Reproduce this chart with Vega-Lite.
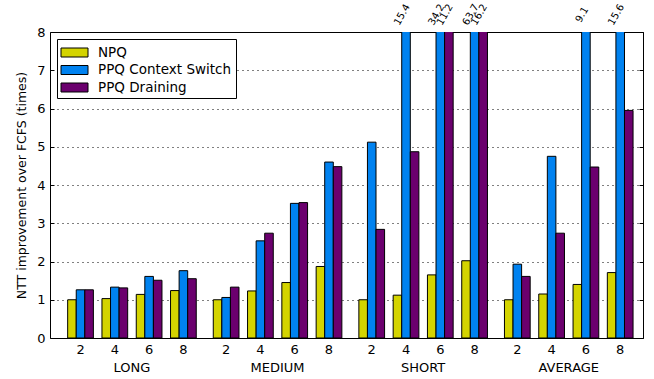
{
  "$schema": "https://vega.github.io/schema/vega-lite/v6.json",
  "width": 593,
  "height": 306,
  "autosize": {"type": "none"},
  "padding": {"left": 50, "top": 32, "right": 11, "bottom": 41},
  "background": "white",
  "config": {
    "font": "DejaVu Sans",
    "view": {"stroke": "black", "strokeWidth": 1},
    "axis": {"labelColor": "black", "titleColor": "black", "labelFont": "DejaVu Sans", "titleFont": "DejaVu Sans"}
  },
  "data": {
    "values": [
      {"group": "LONG", "n": "2", "series": "NPQ", "bar": "2|NPQ", "value": 1.0},
      {"group": "LONG", "n": "2", "series": "PPQ Context Switch", "bar": "2|CS", "value": 1.26},
      {"group": "LONG", "n": "2", "series": "PPQ Draining", "bar": "2|DR", "value": 1.26},
      {"group": "LONG", "n": "4", "series": "NPQ", "bar": "4|NPQ", "value": 1.03},
      {"group": "LONG", "n": "4", "series": "PPQ Context Switch", "bar": "4|CS", "value": 1.33},
      {"group": "LONG", "n": "4", "series": "PPQ Draining", "bar": "4|DR", "value": 1.31},
      {"group": "LONG", "n": "6", "series": "NPQ", "bar": "6|NPQ", "value": 1.14},
      {"group": "LONG", "n": "6", "series": "PPQ Context Switch", "bar": "6|CS", "value": 1.61},
      {"group": "LONG", "n": "6", "series": "PPQ Draining", "bar": "6|DR", "value": 1.51},
      {"group": "LONG", "n": "8", "series": "NPQ", "bar": "8|NPQ", "value": 1.24},
      {"group": "LONG", "n": "8", "series": "PPQ Context Switch", "bar": "8|CS", "value": 1.76},
      {"group": "LONG", "n": "8", "series": "PPQ Draining", "bar": "8|DR", "value": 1.55},
      {"group": "MEDIUM", "n": "2", "series": "NPQ", "bar": "2|NPQ", "value": 1.0},
      {"group": "MEDIUM", "n": "2", "series": "PPQ Context Switch", "bar": "2|CS", "value": 1.06},
      {"group": "MEDIUM", "n": "2", "series": "PPQ Draining", "bar": "2|DR", "value": 1.33},
      {"group": "MEDIUM", "n": "4", "series": "NPQ", "bar": "4|NPQ", "value": 1.23},
      {"group": "MEDIUM", "n": "4", "series": "PPQ Context Switch", "bar": "4|CS", "value": 2.54},
      {"group": "MEDIUM", "n": "4", "series": "PPQ Draining", "bar": "4|DR", "value": 2.74},
      {"group": "MEDIUM", "n": "6", "series": "NPQ", "bar": "6|NPQ", "value": 1.45},
      {"group": "MEDIUM", "n": "6", "series": "PPQ Context Switch", "bar": "6|CS", "value": 3.52},
      {"group": "MEDIUM", "n": "6", "series": "PPQ Draining", "bar": "6|DR", "value": 3.54},
      {"group": "MEDIUM", "n": "8", "series": "NPQ", "bar": "8|NPQ", "value": 1.87},
      {"group": "MEDIUM", "n": "8", "series": "PPQ Context Switch", "bar": "8|CS", "value": 4.6},
      {"group": "MEDIUM", "n": "8", "series": "PPQ Draining", "bar": "8|DR", "value": 4.48},
      {"group": "SHORT", "n": "2", "series": "NPQ", "bar": "2|NPQ", "value": 1.0},
      {"group": "SHORT", "n": "2", "series": "PPQ Context Switch", "bar": "2|CS", "value": 5.12},
      {"group": "SHORT", "n": "2", "series": "PPQ Draining", "bar": "2|DR", "value": 2.84},
      {"group": "SHORT", "n": "4", "series": "NPQ", "bar": "4|NPQ", "value": 1.12},
      {"group": "SHORT", "n": "4", "series": "PPQ Context Switch", "bar": "4|CS", "value": 15.4},
      {"group": "SHORT", "n": "4", "series": "PPQ Draining", "bar": "4|DR", "value": 4.87},
      {"group": "SHORT", "n": "6", "series": "NPQ", "bar": "6|NPQ", "value": 1.65},
      {"group": "SHORT", "n": "6", "series": "PPQ Context Switch", "bar": "6|CS", "value": 34.2},
      {"group": "SHORT", "n": "6", "series": "PPQ Draining", "bar": "6|DR", "value": 11.2},
      {"group": "SHORT", "n": "8", "series": "NPQ", "bar": "8|NPQ", "value": 2.02},
      {"group": "SHORT", "n": "8", "series": "PPQ Context Switch", "bar": "8|CS", "value": 63.7},
      {"group": "SHORT", "n": "8", "series": "PPQ Draining", "bar": "8|DR", "value": 16.2},
      {"group": "AVERAGE", "n": "2", "series": "NPQ", "bar": "2|NPQ", "value": 1.0},
      {"group": "AVERAGE", "n": "2", "series": "PPQ Context Switch", "bar": "2|CS", "value": 1.93},
      {"group": "AVERAGE", "n": "2", "series": "PPQ Draining", "bar": "2|DR", "value": 1.61},
      {"group": "AVERAGE", "n": "4", "series": "NPQ", "bar": "4|NPQ", "value": 1.15},
      {"group": "AVERAGE", "n": "4", "series": "PPQ Context Switch", "bar": "4|CS", "value": 4.75},
      {"group": "AVERAGE", "n": "4", "series": "PPQ Draining", "bar": "4|DR", "value": 2.74},
      {"group": "AVERAGE", "n": "6", "series": "NPQ", "bar": "6|NPQ", "value": 1.4},
      {"group": "AVERAGE", "n": "6", "series": "PPQ Context Switch", "bar": "6|CS", "value": 9.1},
      {"group": "AVERAGE", "n": "6", "series": "PPQ Draining", "bar": "6|DR", "value": 4.47},
      {"group": "AVERAGE", "n": "8", "series": "NPQ", "bar": "8|NPQ", "value": 1.71},
      {"group": "AVERAGE", "n": "8", "series": "PPQ Context Switch", "bar": "8|CS", "value": 15.6},
      {"group": "AVERAGE", "n": "8", "series": "PPQ Draining", "bar": "8|DR", "value": 5.95}
    ]
  },
  "encoding": {
    "x": {
      "field": "group",
      "type": "nominal",
      "sort": ["LONG", "MEDIUM", "SHORT", "AVERAGE"],
      "scale": {"domain": ["LONG", "MEDIUM", "SHORT", "AVERAGE"], "paddingInner": 0.1168, "paddingOuter": 0.0948, "align": 0.64},
      "axis": {"title": null, "ticks": false, "domain": false, "grid": false, "labelAngle": 0, "labelPadding": 23, "labelFontSize": 13, "labelBaseline": "top"}
    },
    "xOffset": {
      "field": "bar",
      "type": "nominal",
      "scale": {
        "domain": ["2|NPQ", "2|CS", "2|DR", "gap1", "4|NPQ", "4|CS", "4|DR", "gap2", "6|NPQ", "6|CS", "6|DR", "gap3", "8|NPQ", "8|CS", "8|DR"],
        "paddingInner": 0,
        "paddingOuter": 0
      }
    }
  },
  "layer": [
    {
      "mark": {"type": "rule", "opacity": 0},
      "encoding": {
        "y": {
          "datum": 0,
          "type": "quantitative",
          "scale": {"domain": [0, 8], "nice": false},
          "axis": {"orient": "right", "title": null, "labels": false, "values": [0, 1, 2, 3, 4, 5, 6, 7, 8], "tickSize": -4, "tickColor": "black", "domain": false, "grid": true, "gridColor": "black", "gridDash": [1, 4], "gridWidth": 1, "gridOpacity": 1}
        }
      }
    },
    {
      "mark": {"type": "bar", "clip": true, "stroke": "black", "strokeWidth": 1},
      "encoding": {
        "y": {
          "field": "value",
          "type": "quantitative",
          "scale": {"domain": [0, 8], "nice": false, "zero": true},
          "axis": {
            "orient": "left",
            "title": "NTT improvement over FCFS (times)",
            "titleFontSize": 12.5,
            "titleFontWeight": "normal",
            "titlePadding": 8,
            "values": [0, 1, 2, 3, 4, 5, 6, 7, 8],
            "labelFontSize": 13,
            "tickSize": -4,
            "tickColor": "black",
            "labelPadding": 9,
            "domain": false,
            "grid": false
          }
        },
        "color": {
          "field": "series",
          "type": "nominal",
          "scale": {"domain": ["NPQ", "PPQ Context Switch", "PPQ Draining"], "range": ["#d4d400", "#0082f0", "#6b006e"]},
          "legend": {
            "title": null,
            "orient": "top-left",
            "offset": 7,
            "symbolType": "M-1.5,-0.5H1.5V0.5H-1.5Z",
            "symbolSize": 324,
            "symbolStrokeColor": "black",
            "symbolStrokeWidth": 1,
            "symbolOpacity": 1,
            "symbolOffset": 4,
            "labelFontSize": 13.5,
            "labelColor": "black",
            "labelOffset": 14,
            "rowPadding": 1.5,
            "strokeColor": "black",
            "fillColor": "white",
            "padding": 4
          }
        }
      }
    },
    {
      "transform": [{"filter": "datum.value > 8"}],
      "mark": {"type": "text", "angle": 300, "align": "center", "baseline": "middle", "fontSize": 10, "dx": 13, "dy": -12, "color": "black"},
      "encoding": {
        "y": {"datum": 8, "type": "quantitative", "scale": {"domain": [0, 8]}, "axis": null},
        "text": {"field": "value", "type": "quantitative", "format": ".1f"}
      }
    },
    {
      "transform": [{"filter": "datum.series == 'PPQ Context Switch'"}],
      "mark": {"type": "text", "align": "center", "baseline": "top", "fontSize": 13, "dy": 6, "color": "black"},
      "encoding": {
        "y": {"datum": 0, "type": "quantitative", "scale": {"domain": [0, 8]}, "axis": null},
        "text": {"field": "n", "type": "nominal"}
      }
    }
  ],
  "resolve": {"axis": {"y": "independent"}}
}
